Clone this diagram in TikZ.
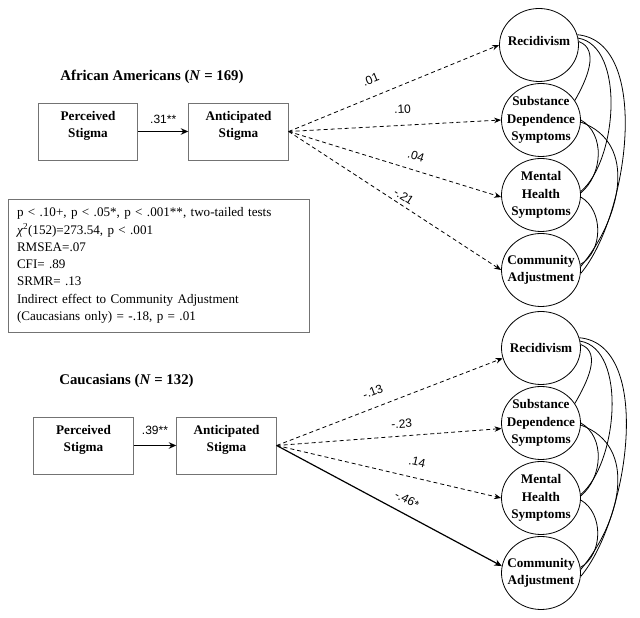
\documentclass[tikz,border=0pt]{standalone}
\usepackage{fontspec}
\setmainfont{Liberation Serif}
\newfontfamily\labelfont{Liberation Sans}
\usepackage{tikz}
\usetikzlibrary{shapes.geometric, arrows, arrows.meta, positioning}
\tikzstyle{dasharrow} = [dash pattern=on 4pt off 3pt, line width=0.8pt, ->, >={Stealth[length=7pt, width=5.5pt]}]
\tikzstyle{sigarrow} = [line width=1.4pt, ->, >={Stealth[length=7.5pt, width=6.5pt]}]
\tikzstyle{box} = [rectangle, draw=black!55, line width=0.9pt, minimum width=99.5pt, minimum height=57pt, align=center, font=\fontsize{13.2}{17.5}\selectfont\bfseries]
\tikzstyle{factor} = [ellipse, draw, line width=0.8pt, minimum width=79pt, minimum height=73pt, inner xsep=-14pt, inner ysep=-10pt, align=center, font=\fontsize{13.2}{17.5}\selectfont\bfseries]
\tikzstyle{coef} = [font=\labelfont\fontsize{12}{14}\selectfont, inner sep=1pt, sloped]
\tikzstyle{grouptitle} = [font=\fontsize{14.8}{17}\selectfont\bfseries]
\newcommand{\lowpad}{\rule[-14pt]{0pt}{0pt}}

\begin{document}
\begin{tikzpicture}[x=1pt, y=1pt, node distance=75pt]
        \useasboundingbox (0,0) rectangle (640,618);
        % African Americans
        \node[grouptitle] (titleA) at (152,541) {African Americans (\textit{N} = 169)};
        \node[box] (percA) at (88,486.5) {Perceived\\Stigma\lowpad};
        \node[box, right of=percA, xshift=75.5pt] (antA) {Anticipated\\Stigma\lowpad};
        \node[factor] (recA) at (539,573) {\raisebox{8pt}{Recidivism}};
        \node[factor, below of=recA, xshift=2pt] (subA) {Substance\\Dependence\\Symptoms};
        \node[factor, below of=subA] (mentA) {Mental\\Health\\Symptoms};
        \node[factor, below of=mentA] (commA) {Community\\Adjustment};
        \draw (percA) edge[sigarrow] node[coef, above=6.5pt] {.31**} (antA)
        (antA.east) edge[dasharrow] node[coef, above=11pt, pos=.42] {.01} (recA.west)
        (antA.east) edge[dasharrow] node[coef, above=10.5pt, pos=.54] {.10} (subA.west)
        (antA.east) edge[dasharrow] node[coef, above=8.5pt, pos=.58] {.04} (mentA.183)
        (antA.east) edge[dasharrow] node[coef, above=3pt, pos=.52] {-.21} (commA.west);

        % fit statistics
        \node[rectangle, draw=black!55, line width=0.9pt, minimum width=301pt, minimum height=133pt, text width=283pt, inner xsep=9pt, align=left, font=\fontsize{13.1}{17.3}\selectfont] (fit) at (158.5,352.5)
        {p < .10+, p < .05*, p < .001**, two-tailed tests\\
        \textit{χ}\textsuperscript{2}(152)=273.54, p < .001\\
        RMSEA=.07\\
        CFI= .89\\
        SRMR= .13\\
        Indirect effect to Community Adjustment\\
        (Caucasians only) = -.18, p = .01};

        % Caucasians
        \node[grouptitle] (titleC) at (126.5,237) {Caucasians (\textit{N} = 132)};
        \node[box] (percC) at (83.5,172.5) {Perceived\\Stigma\lowpad};
        \node[box, right of=percC, xshift=68pt] (antC) {Anticipated\\Stigma\lowpad};
        \node[factor] (recC) at (541,270) {Recidivism};
        \node[factor, below of=recC] (subC) {Substance\\Dependence\\Symptoms};
        \node[factor, below of=subC] (mentC) {Mental\\Health\\Symptoms};
        \node[factor, below of=mentC] (commC) {Community\\Adjustment};
        \draw (percC) edge[sigarrow] node[coef, above=9.5pt] {.39**} (antC)
        (antC.east) edge[dasharrow] node[coef, above=10pt, pos=.45] {-.13} (recC.195)
        (antC.east) edge[dasharrow] node[coef, above=6.5pt, pos=.56] {-.23} (subC.188)
        (antC.east) edge[dasharrow] node[coef, above=10.5pt, pos=.61] {.14} (mentC.west)
        (antC.east) edge[sigarrow, line width=1.2pt] node[coef, above=8pt, pos=.55] {-.46*} (commC.170);

        % correlated outcomes
        \foreach \g in {A,C} {
            \draw[line width=0.8pt] (rec\g.5) to[out=-20, in=60] (sub\g.30);
            \draw[line width=0.8pt] (rec\g.10) to[out=-10, in=40, looseness=0.8] (ment\g.5);
            \draw[line width=0.8pt] (rec\g.15) to[out=-5, in=50, looseness=0.8] (comm\g.-5);
            \draw[line width=0.8pt] (sub\g.0) to[out=-30, in=40] (ment\g.3);
            \draw[line width=0.8pt] (sub\g.-3) to[out=-20, in=50, looseness=1.1] (comm\g.5);
            \draw[line width=0.8pt] (ment\g.-3) to[out=-30, in=30] (comm\g.8);
        }
    \end{tikzpicture}
\end{document}
